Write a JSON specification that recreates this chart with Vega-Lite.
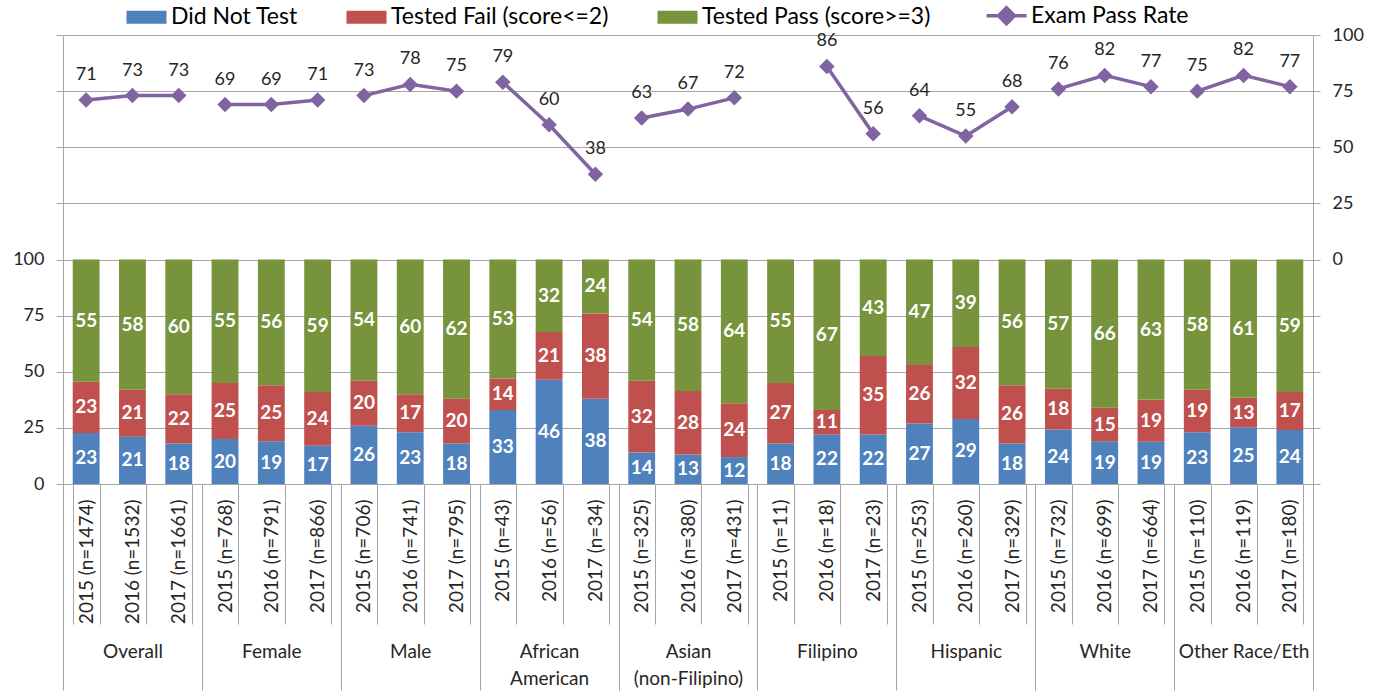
{
  "$schema": "https://vega.github.io/schema/vega-lite/v6.json",
  "width": 1250,
  "height": 449,
  "autosize": {"type": "none"},
  "padding": {"left": 63, "top": 35, "right": 60, "bottom": 210},
  "background": "white",
  "config": {
    "font": "Lato",
    "view": {"stroke": null},
    "axis": {
      "domainColor": "#A6A6A6",
      "tickColor": "#A6A6A6",
      "gridColor": "#A6A6A6",
      "labelColor": "#262626",
      "labelFont": "Lato",
      "labelFontSize": 18
    }
  },
  "data": {
    "values": [
      {"group": "Overall", "year": "2015 (n=1474)", "dnt": 23, "fail": 23, "pass": 55, "rate": 71},
      {"group": "Overall", "year": "2016 (n=1532)", "dnt": 21, "fail": 21, "pass": 58, "rate": 73},
      {"group": "Overall", "year": "2017 (n=1661)", "dnt": 18, "fail": 22, "pass": 60, "rate": 73},
      {"group": "Female", "year": "2015 (n=768)", "dnt": 20, "fail": 25, "pass": 55, "rate": 69},
      {"group": "Female", "year": "2016 (n=791)", "dnt": 19, "fail": 25, "pass": 56, "rate": 69},
      {"group": "Female", "year": "2017 (n=866)", "dnt": 17, "fail": 24, "pass": 59, "rate": 71},
      {"group": "Male", "year": "2015 (n=706)", "dnt": 26, "fail": 20, "pass": 54, "rate": 73},
      {"group": "Male", "year": "2016 (n=741)", "dnt": 23, "fail": 17, "pass": 60, "rate": 78},
      {"group": "Male", "year": "2017 (n=795)", "dnt": 18, "fail": 20, "pass": 62, "rate": 75},
      {"group": "African American", "year": "2015 (n=43)", "dnt": 33, "fail": 14, "pass": 53, "rate": 79},
      {"group": "African American", "year": "2016 (n=56)", "dnt": 46, "fail": 21, "pass": 32, "rate": 60},
      {"group": "African American", "year": "2017 (n=34)", "dnt": 38, "fail": 38, "pass": 24, "rate": 38},
      {"group": "Asian (non-Filipino)", "year": "2015 (n=325)", "dnt": 14, "fail": 32, "pass": 54, "rate": 63},
      {"group": "Asian (non-Filipino)", "year": "2016 (n=380)", "dnt": 13, "fail": 28, "pass": 58, "rate": 67},
      {"group": "Asian (non-Filipino)", "year": "2017 (n=431)", "dnt": 12, "fail": 24, "pass": 64, "rate": 72},
      {"group": "Filipino", "year": "2015 (n=11)", "dnt": 18, "fail": 27, "pass": 55, "rate": null},
      {"group": "Filipino", "year": "2016 (n=18)", "dnt": 22, "fail": 11, "pass": 67, "rate": 86},
      {"group": "Filipino", "year": "2017 (n=23)", "dnt": 22, "fail": 35, "pass": 43, "rate": 56},
      {"group": "Hispanic", "year": "2015 (n=253)", "dnt": 27, "fail": 26, "pass": 47, "rate": 64},
      {"group": "Hispanic", "year": "2016 (n=260)", "dnt": 29, "fail": 32, "pass": 39, "rate": 55},
      {"group": "Hispanic", "year": "2017 (n=329)", "dnt": 18, "fail": 26, "pass": 56, "rate": 68},
      {"group": "White", "year": "2015 (n=732)", "dnt": 24, "fail": 18, "pass": 57, "rate": 76},
      {"group": "White", "year": "2016 (n=699)", "dnt": 19, "fail": 15, "pass": 66, "rate": 82},
      {"group": "White", "year": "2017 (n=664)", "dnt": 19, "fail": 19, "pass": 63, "rate": 77},
      {"group": "Other Race/Eth", "year": "2015 (n=110)", "dnt": 23, "fail": 19, "pass": 58, "rate": 75},
      {"group": "Other Race/Eth", "year": "2016 (n=119)", "dnt": 25, "fail": 13, "pass": 61, "rate": 82},
      {"group": "Other Race/Eth", "year": "2017 (n=180)", "dnt": 24, "fail": 17, "pass": 59, "rate": 77}
    ]
  },
  "layer": [
    {
      "layer": [
        {
          "transform": [
            {"fold": ["dnt", "fail", "pass"], "as": ["cat", "pct"]},
            {"stack": "pct", "groupby": ["year"], "sort": [{"field": "cat", "order": "ascending"}], "offset": "normalize", "as": ["v0", "v1"]}
          ],
          "layer": [
            {
              "mark": {"type": "bar"},
              "encoding": {
                "x": {
                  "field": "year", "type": "nominal", "sort": null,
                  "scale": {"paddingInner": 0.42, "paddingOuter": 0.21},
                  "axis": {
                    "orient": "bottom", "title": null, "labelAngle": 270,
                    "tickBand": "extent", "tickSize": 140, "labelPadding": -125,
                    "labelFontSize": 19,
                    "domain": true, "grid": false
                  }
                },
                "y": {
                  "field": "v1", "type": "quantitative",
                  "scale": {"domain": [0, 2], "nice": false},
                  "axis": {
                    "orient": "left", "title": null, "grid": true,
                    "values": [0, 0.25, 0.5, 0.75, 1, 1.25, 1.5, 1.75, 2],
                    "labelExpr": "datum.value <= 1.001 ? format(datum.value * 100, 'd') : ''",
                    "tickSize": 7, "labelPadding": 12
                  }
                },
                "y2": {"field": "v0"},
                "color": {
                  "field": "cat", "type": "nominal",
                  "scale": {"domain": ["dnt", "fail", "pass", "rate"], "range": ["#4F81BD", "#C0504D", "#77933C", "#8064A2"]},
                  "legend": {
                    "orient": "none", "legendX": 72, "legendY": -31,
                    "direction": "horizontal", "title": null,
                    "columnPadding": 48, "labelFontSize": 23, "labelColor": "#000000",
                    "labelFont": "Lato", "labelOffset": 13, "labelLimit": 400,
                    "labelExpr": "datum.value == 'dnt' ? 'Did Not Test' : datum.value == 'fail' ? 'Tested Fail (score<=2)' : datum.value == 'pass' ? 'Tested Pass (score>=3)' : 'Exam Pass Rate'",
                    "symbolSize": 1600,
                    "symbolType": "M-1,-0.33H1V0.33H-1Z",
                    "encode": {
                      "symbols": {
                        "update": {
                          "shape": {"signal": "datum.value == 'rate' ? 'M-1,0H1M-0.4,0L0,-0.4L0.4,0L0,0.4Z' : 'M-1,-0.33H1V0.33H-1Z'"},
                          "strokeWidth": {"signal": "datum.value == 'rate' ? 3.5 : 0"},
                          "stroke": {"value": "#8064A2"},
                          "fill": {"scale": "color", "field": "value"},
                          "opacity": {"value": 1},
                          "fillOpacity": {"value": 1}
                        }
                      }
                    }
                  }
                }
              }
            },
            {
              "transform": [
                {"fold": ["v0", "v1"], "as": ["end", "pos"]},
                {"aggregate": [{"op": "mean", "field": "pos", "as": "mid"}], "groupby": ["year", "cat", "pct"]}
              ],
              "mark": {"type": "text", "color": "white", "fontWeight": "bold", "fontSize": 19, "baseline": "middle", "font": "Lato"},
              "encoding": {
                "x": {"field": "year", "type": "nominal", "sort": null},
                "y": {"field": "mid", "type": "quantitative", "title": null},
                "text": {"field": "pct", "type": "quantitative"}
              }
            }
          ]
        },
        {
          "transform": [{"filter": "datum.rate != null"}],
          "layer": [
            {
              "mark": {"type": "line", "strokeWidth": 3.5},
              "encoding": {
                "x": {"field": "year", "type": "nominal", "sort": null},
                "y": {
                  "field": "rate", "type": "quantitative",
                  "scale": {"domain": [-100, 100], "nice": false},
                  "axis": {
                    "orient": "right", "title": null, "grid": false,
                    "values": [-100, -75, -50, -25, 0, 25, 50, 75, 100],
                    "labelExpr": "datum.value >= 0 ? datum.label : ''",
                    "tickSize": 7, "labelPadding": 12
                  }
                },
                "detail": {"field": "group", "type": "nominal"},
                "color": {"datum": "rate", "type": "nominal"}
              }
            },
            {
              "mark": {"type": "point", "shape": "diamond", "filled": true, "size": 240, "opacity": 1},
              "encoding": {
                "x": {"field": "year", "type": "nominal", "sort": null},
                "y": {"field": "rate", "type": "quantitative", "title": null},
                "color": {"datum": "rate", "type": "nominal"}
              }
            },
            {
              "mark": {"type": "text", "dy": -20, "baseline": "alphabetic", "fontSize": 18, "color": "#262626", "font": "Lato"},
              "encoding": {
                "x": {"field": "year", "type": "nominal", "sort": null},
                "y": {"field": "rate", "type": "quantitative", "title": null},
                "text": {"field": "rate", "type": "quantitative"}
              }
            }
          ]
        }
      ],
      "resolve": {"scale": {"y": "independent"}}
    },
    {
      "mark": {"type": "bar", "opacity": 0},
      "encoding": {
        "x": {
          "field": "group", "type": "nominal", "sort": null,
          "scale": {"paddingInner": 0, "paddingOuter": 0},
          "axis": {
            "orient": "bottom", "title": null, "domain": false, "grid": false,
            "tickBand": "extent", "tickSize": 206, "labelPadding": -48,
            "labelAngle": 0, "labelBaseline": "top", "labelLineHeight": 27,
            "labelFontSize": 19,
            "labelExpr": "datum.label == 'African American' ? ['African', 'American'] : datum.label == 'Asian (non-Filipino)' ? ['Asian', '(non-Filipino)'] : datum.label"
          }
        }
      }
    }
  ],
  "resolve": {"scale": {"x": "independent"}}
}
